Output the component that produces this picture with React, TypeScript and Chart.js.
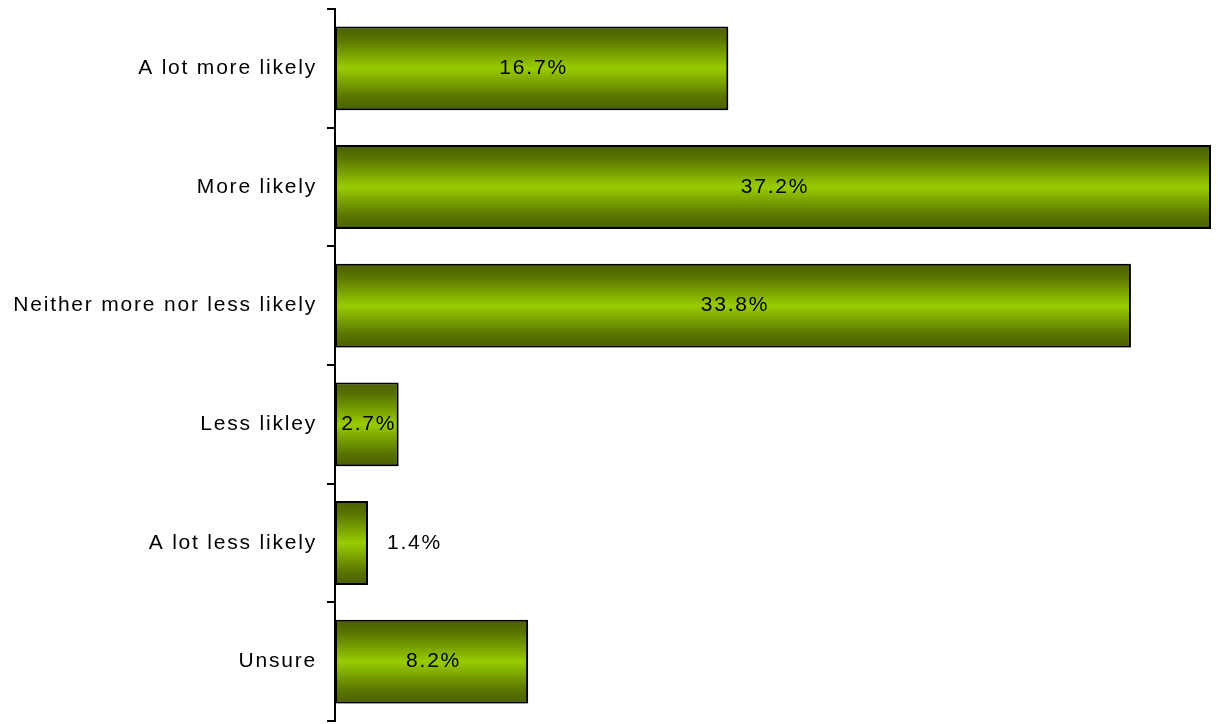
import React, { useEffect, useRef } from "react";
import { Chart, registerables } from "chart.js";

Chart.register(...registerables);

const categories = [
  "A lot more likely",
  "More likely",
  "Neither more nor less likely",
  "Less likley",
  "A lot less likely",
  "Unsure",
];
const values = [16.7, 37.2, 33.8, 2.7, 1.4, 8.2];
const valueLabels = ["16.7%", "37.2%", "33.8%", "2.7%", "1.4%", "8.2%"];

const FONT = '"Liberation Sans", Arial, sans-serif';
const FONT_SIZE = 21;
const LETTER_SPACING = "1.8px";
const BAR_PCT = 0.706;

const spacingPlugin = {
  id: "letterSpacing",
  beforeDraw(chart: any) {
    (chart.ctx as any).letterSpacing = LETTER_SPACING;
  },
};

const shadowPlugin = {
  id: "barShadow",
  beforeDatasetsDraw(chart: any) {
    const ctx = chart.ctx;
    ctx.save();
    ctx.shadowColor = "rgba(0,0,0,0.3)";
    ctx.shadowOffsetX = 2;
    ctx.shadowOffsetY = 2;
    ctx.shadowBlur = 2;
  },
  afterDatasetsDraw(chart: any) {
    chart.ctx.restore();
  },
};

const labelPlugin = {
  id: "valueLabels",
  afterDatasetsDraw(chart: any) {
    const ctx = chart.ctx;
    const meta = chart.getDatasetMeta(0);
    ctx.save();
    (ctx as any).letterSpacing = LETTER_SPACING;
    ctx.font = `${FONT_SIZE}px ${FONT}`;
    ctx.fillStyle = "#000";
    ctx.textBaseline = "middle";
    meta.data.forEach((bar: any, i: number) => {
      const text = valueLabels[i];
      const w = ctx.measureText(text).width;
      const left = bar.base;
      const right = bar.x;
      const barW = right - left;
      if (w > barW) {
        ctx.textAlign = "left";
        ctx.fillText(text, right + 19, bar.y);
      } else {
        ctx.textAlign = "center";
        ctx.fillText(text, (left + right) / 2 + 2, bar.y);
      }
    });
    ctx.restore();
  },
};

export default function App() {
  const canvasRef = useRef<HTMLCanvasElement | null>(null);

  useEffect(() => {
    document.body.style.margin = "0";
    document.body.style.overflow = "hidden";
    const canvas = canvasRef.current;
    if (!canvas) return;

    const chart = new Chart(canvas, {
      type: "bar",
      data: {
        labels: categories,
        datasets: [
          {
            data: values,
            backgroundColor: (c: any) => {
              const ch = c.chart;
              const sc = ch.scales?.y;
              if (!sc || c.dataIndex === undefined) return "#99cc00";
              const band = (sc.bottom - sc.top) / categories.length;
              const h = band * BAR_PCT;
              const cy = sc.getPixelForValue(c.dataIndex);
              if (!isFinite(cy) || !isFinite(h) || h <= 0) return "#99cc00";
              const g = ch.ctx.createLinearGradient(0, cy - h / 2, 0, cy + h / 2);
              g.addColorStop(0, "#4b6000");
              g.addColorStop(0.15, "#587300");
              g.addColorStop(0.5, "#99cc00");
              g.addColorStop(0.85, "#587300");
              g.addColorStop(1, "#4b6000");
              return g;
            },
            borderColor: "#000",
            borderWidth: 2,
            borderSkipped: false,
            categoryPercentage: 1,
            barPercentage: BAR_PCT,
          },
        ],
      },
      options: {
        indexAxis: "y",
        animation: false,
        responsive: true,
        maintainAspectRatio: false,
        layout: { padding: { top: 9, bottom: 3, left: 0, right: 7 } },
        plugins: {
          legend: { display: false },
          tooltip: { enabled: false },
          title: { display: false },
        },
        scales: {
          x: {
            display: false,
            min: 0,
            max: 37.2,
          },
          y: {
            type: "category",
            offset: true,
            afterFit: (s: any) => {
              s.width = 335;
              s.paddingTop = 0;
              s.paddingBottom = 0;
            },
            grid: {
              offset: true,
              drawOnChartArea: false,
              drawTicks: true,
              tickLength: 8,
              color: "#000",
              lineWidth: 2,
            },
            border: { display: true, color: "#000", width: 2 },
            ticks: {
              color: "#000",
              padding: 10,
              font: { family: FONT, size: FONT_SIZE },
            },
          },
        },
      },
      plugins: [spacingPlugin, shadowPlugin, labelPlugin],
    });

    return () => chart.destroy();
  }, []);

  return (
    <div style={{ width: 1218, height: 724, position: "relative" }}>
      <canvas ref={canvasRef} />
    </div>
  );
}
